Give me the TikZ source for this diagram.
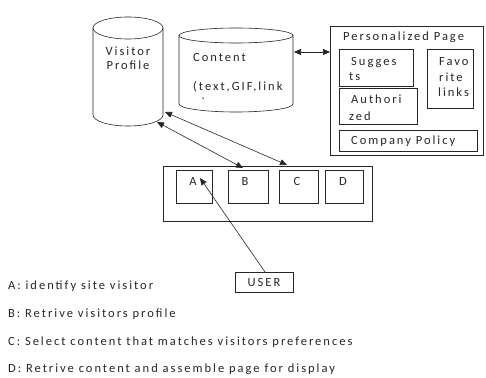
\documentclass[tikz,border=0pt]{standalone}
\usepackage{fontspec}
\newfontfamily\lab[LetterSpace=16]{Carlito}
\usetikzlibrary{arrows.meta}
\tikzset{
  ln/.style={draw=black!85, line width=0.6pt},
  box/.style={ln, rectangle, inner sep=0pt},
  txt/.style={font=\lab\fontsize{12.5}{14}\selectfont, inner sep=0pt, anchor=base west, text=black!85},
  ctxt/.style={txt, anchor=base},
  tip/.style={-{Triangle[length=7pt,width=6pt]}},
  dtip/.style={{Triangle[length=7pt,width=6pt]}-{Triangle[length=7pt,width=6pt]}}
}
\begin{document}
\begin{tikzpicture}[x=1pt,y=1pt]
\useasboundingbox (0,0) rectangle (486,377);
\fill[white] (0,0) rectangle (486,377);
% Visitor Profile cylinder
\draw[ln] (93,349) -- (93,262) arc[start angle=180,end angle=360,x radius=35pt,y radius=11pt] -- (163,349);
\draw[ln] (128,349) ellipse[x radius=35pt,y radius=11pt];
\node[ctxt] (vp1) at (128,321) {Visitor};
\node[ctxt] (vp2) at (128,307) {Profile};
% Content cylinder
\draw[ln] (179,341.5) -- (179,273) arc[start angle=180,end angle=360,x radius=57pt,y radius=8pt] -- (293,341.5);
\draw[ln] (236,341.5) ellipse[x radius=57pt,y radius=7.5pt];
\node[txt] (ct1) at (193,315) {Content};
\node[txt] (ct2) at (193,286) {(text,GIF,link};
\node[txt] (ct3) at (201,270) {`};
% Personalized page
\node[box, minimum width=153pt, minimum height=129pt] (page) at (406.5,286.5) {};
\node[txt] (ptitle) at (343,336) {Personalized Page};
\node[box, minimum width=74pt, minimum height=37pt] (sug) at (376,309.5) {};
\node[txt] (sug1) at (351,311) {Sugges};
\node[txt] (sug2) at (349,296) {ts};
\node[box, minimum width=78pt, minimum height=36pt] (aut) at (378,271) {};
\node[txt] (aut1) at (351,273) {Authori};
\node[txt] (aut2) at (349,256) {zed};
\node[box, minimum width=46pt, minimum height=59pt] (fav) at (450,298.5) {};
\node[txt] (fav1) at (439,311) {Favo};
\node[txt] (fav2) at (439,295) {rite};
\node[txt] (fav3) at (438,280) {links};
\node[box, minimum width=138pt, minimum height=21pt] (pol) at (408,236.5) {};
\node[txt] (pol1) at (351,232) {Company Policy};
% A B C D
\node[box, minimum width=209pt, minimum height=55pt] (main) at (267.5,183.5) {};
\node[box, minimum width=36pt, minimum height=33pt] (A) at (194,190.5) {};
\node[box, minimum width=40pt, minimum height=33pt] (B) at (248,190.5) {};
\node[box, minimum width=39pt, minimum height=33pt] (C) at (298.5,190.5) {};
\node[box, minimum width=38pt, minimum height=33pt] (D) at (344,190.5) {};
\node[ctxt] (la) at (193,191) {A};
\node[ctxt] (lb) at (245,191) {B};
\node[ctxt] (lc) at (297,191) {C};
\node[ctxt] (ld) at (343,191) {D};
% USER
\node[box, minimum width=58pt, minimum height=20pt] (user) at (264,95) {};
\node[ctxt] (usert) at (264,91) {USER};
% connectors
\coordinate (cR) at (294,325);
\coordinate (pL) at (330,325);
\coordinate (vpU) at (165,265);
\coordinate (vpL) at (157,255);
\coordinate (cT) at (287,212);
\coordinate (bT) at (243,209);
\coordinate (uT) at (265,105);
\coordinate (aP) at (200,199);
\draw[ln, dtip] (cR) -- (pL);
\draw[ln, dtip] (vpU) -- (cT);
\draw[ln, dtip] (vpL) -- (bT);
\draw[ln, tip] (uT) -- (aP);
% legend
\node[txt] (l1) at (8,88) {A: identify site visitor};
\node[txt] (l2) at (8,60) {B: Retrive visitors profile};
\node[txt] (l3) at (8,32) {C: Select content that matches visitors preferences};
\node[txt] (l4) at (8,5) {D: Retrive content and assemble page for display};
\end{tikzpicture}
\end{document}
